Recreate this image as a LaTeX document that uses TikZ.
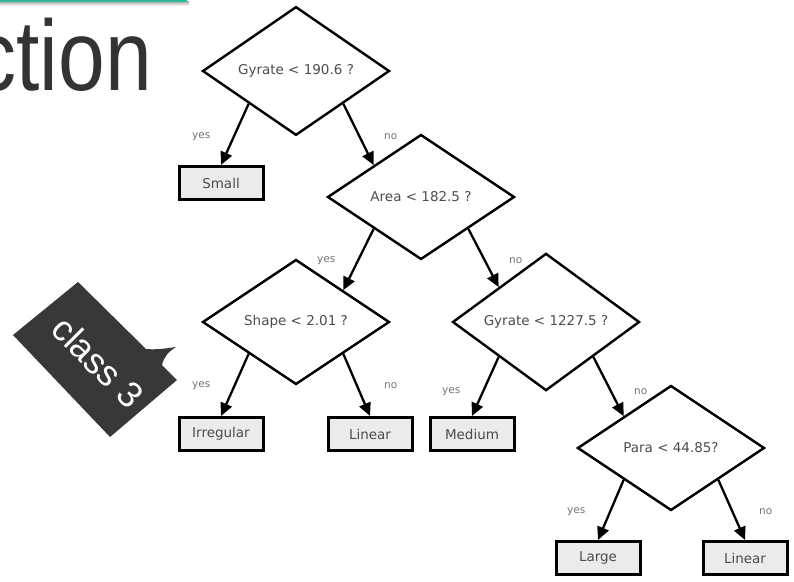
\documentclass[tikz,border=0pt]{standalone}
\usepackage{fontspec}
\setmainfont{DejaVu Sans}
\newfontfamily\slidefont{Liberation Sans}
\usetikzlibrary{shapes.geometric,arrows.meta}
\definecolor{slidegrey}{HTML}{333333}
\definecolor{leafgrey}{HTML}{EBEBEB}
\definecolor{slideteal}{HTML}{2DB89B}
\definecolor{calloutgrey}{HTML}{383838}
\tikzset{
  test/.style={diamond, draw, line width=2.4pt, minimum width=187pt,
    minimum height=125pt, inner sep=0pt, text=black!70,
    font=\fontsize{13.5}{15}\selectfont},
  leaf/.style={rectangle, draw, fill=leafgrey, line width=3pt,
    minimum width=84pt, minimum height=33pt, inner sep=0pt, text=black!70,
    font=\fontsize{13.5}{15}\selectfont},
  branch/.style={line width=2.3pt, -{Triangle[length=13pt,width=12pt]}},
  answer/.style={text=black!55, font=\fontsize{10.5}{12}\selectfont}
}
\begin{document}
\begin{tikzpicture}[x=1pt,y=-1pt]
\useasboundingbox (0,0) rectangle (794,581);
\clip (0,0) rectangle (794,581);
% slide heading and its frame
\shade[top color=black!35, bottom color=white] (0,1) rectangle (189,6);
\draw[slideteal, line width=2pt] (0,0.5) -- (187,0.5);
\node[anchor=base east, inner sep=0pt, xscale=0.84, text=slidegrey,
  font=\slidefont\fontsize{100}{100}\selectfont] (heading) at (152,90) {ction};
% callout
\fill[calloutgrey] (78,282) -- (146,349)
  .. controls (158,350) and (168,348) .. (176,347)
  .. controls (168,352) and (164,357) .. (162,365)
  -- (177,380) -- (110,437) -- (13,335) -- cycle;
\node[rotate=-45, text=white, font=\slidefont\fontsize{36}{36}\selectfont]
  (classlabel) at (98,362) {class 3};
% tree
\node[test] (gyrate) at (296,71) {Gyrate < 190.6 ?};
\node[leaf] (small) at (221,183) {Small};
\node[test] (area) at (421,197) {Area < 182.5 ?};
\node[test] (shape) at (296,322) {Shape < 2.01 ?};
\node[test] (gyrateb) at (546,322) {Gyrate < 1227.5 ?};
\node[leaf] (irregular) at (221,434) {Irregular};
\node[leaf] (linear) at (370,434) {Linear};
\node[leaf] (medium) at (472,434) {Medium};
\node[test] (para) at (671,448) {Para < 44.85?};
\node[leaf] (large) at (598,558) {Large};
\node[leaf] (linearb) at (745,558) {Linear};
\draw[branch] (gyrate.south west) -- (small.north);
\draw[branch] (gyrate.south east) -- (area.north west);
\draw[branch] (area.south west) -- (shape.north east);
\draw[branch] (area.south east) -- (gyrateb.north west);
\draw[branch] (shape.south west) -- (irregular.north);
\draw[branch] (shape.south east) -- (linear.north);
\draw[branch] (gyrateb.south west) -- (medium.north);
\draw[branch] (gyrateb.south east) -- (para.north west);
\draw[branch] (para.south west) -- (large.north);
\draw[branch] (para.south east) -- (linearb.north);
\foreach \d in {gyrate,area,shape,gyrateb,para} {
  \node[answer] (\d-yes) at (\d.west |- \d.south) {yes};
  \node[answer] (\d-no) at (\d.east |- \d.south) {no};
}
\end{tikzpicture}
\end{document}
